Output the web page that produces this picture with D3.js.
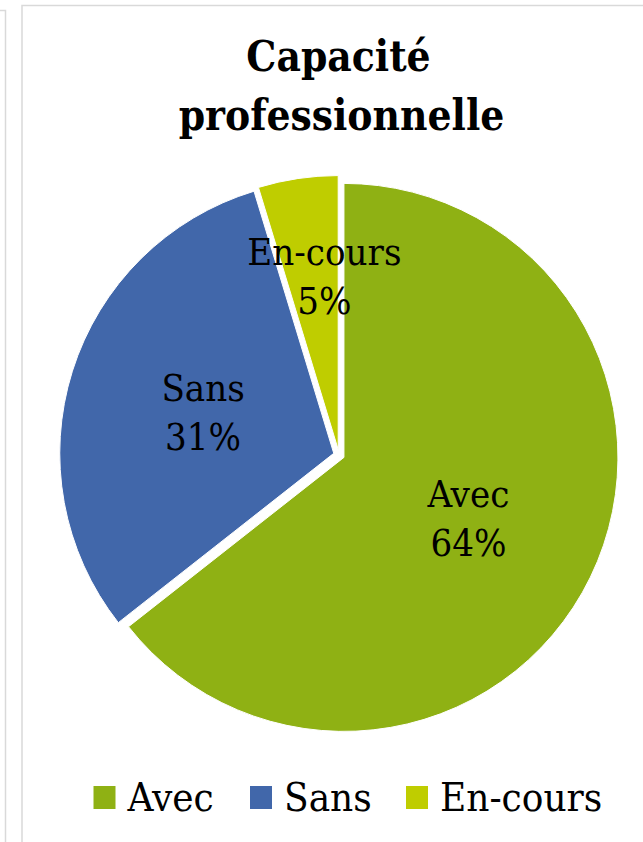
<!DOCTYPE html>
<html>
<head>
<meta charset="utf-8">
<script src="https://cdn.jsdelivr.net/npm/d3@7"></script>
<style>
  body { margin: 0; background: #fff; }
  svg { display: block; }
  .title { font-family: "DejaVu Serif Condensed", "DejaVu Serif", serif; font-weight: bold; }
  .lbl, .legend { font-family: "DejaVu Serif Condensed", "DejaVu Serif", serif; }
</style>
</head>
<body>
<svg id="chart"></svg>
<script>
const categories = ["Avec", "Sans", "En-cours"];
const values = [64.4, 30.9, 4.7];
const colors = ["#8fb114", "#4167aa", "#bfcd00"];
const titleLines = ["Capacité", "professionnelle"];

const width = 643, height = 842;
const cx = 339, cy = 455, radius = 274, explode = 5.5;
// label distance from centre (fraction of radius) and small x nudge
const labelFactor = [0.505, 0.5, 0.64];
const labelNudge = [0, 0, 12];

const svg = d3.select("#chart").attr("width", width).attr("height", height);

// frame lines
svg.append("path")
  .attr("d", `M0,10.5 H5.5 V${height}`)
  .attr("fill", "none").attr("stroke", "#d9d9d9").attr("stroke-width", 1.5);
svg.append("path")
  .attr("d", `M22,${height} V5.5 H${width}`)
  .attr("fill", "none").attr("stroke", "#d9d9d9").attr("stroke-width", 1.5);

// title
svg.append("text").attr("class", "title")
  .attr("x", 338.5).attr("y", 70.5)
  .attr("text-anchor", "middle").attr("font-size", 42)
  .text(titleLines[0]);
svg.append("text").attr("class", "title")
  .attr("x", 341.5).attr("y", 130)
  .attr("text-anchor", "middle").attr("font-size", 42)
  .text(titleLines[1]);

const data = categories.map((c, i) => ({ name: c, value: values[i], color: colors[i], i }));
const pie = d3.pie().sort(null).value((d) => d.value);
const arcs = pie(data);
const arc = d3.arc().innerRadius(0).outerRadius(radius);

const g = svg.append("g").attr("transform", `translate(${cx},${cy})`);

const slices = g.selectAll("g.slice")
  .data(arcs)
  .enter()
  .append("g")
  .attr("class", "slice")
  .attr("transform", (d) => {
    const a = (d.startAngle + d.endAngle) / 2;
    return `translate(${explode * Math.sin(a)},${-explode * Math.cos(a)})`;
  });

slices.append("path")
  .attr("d", arc)
  .attr("fill", (d) => d.data.color)
  .attr("stroke", "#fff")
  .attr("stroke-width", 1);

// labels: name + rounded percent
const total = d3.sum(values);
slices.each(function (d) {
  const r = radius * labelFactor[d.data.i];
  const [ax, ly] = d3.arc().innerRadius(r).outerRadius(r).centroid(d);
  const lx = ax + labelNudge[d.data.i];
  const t = d3.select(this).append("text")
    .attr("class", "lbl")
    .attr("text-anchor", "middle")
    .attr("font-size", 38)
    .attr("fill", "#000");
  t.append("tspan").attr("x", lx).attr("y", ly - 11).text(d.data.name);
  t.append("tspan").attr("x", lx).attr("y", ly + 38)
    .text(Math.round((d.data.value / total) * 100) + "%");
});

// legend
const legendX = [93.5, 250, 406];
const legend = svg.append("g").attr("class", "legend");
data.forEach((d, i) => {
  legend.append("rect")
    .attr("x", legendX[i]).attr("y", 786)
    .attr("width", 22).attr("height", 23)
    .attr("fill", d.color);
  legend.append("text")
    .attr("x", legendX[i] + 34).attr("y", 810.5)
    .attr("font-size", 40)
    .attr("fill", "#000")
    .text(d.name);
});
</script>
</body>
</html>
